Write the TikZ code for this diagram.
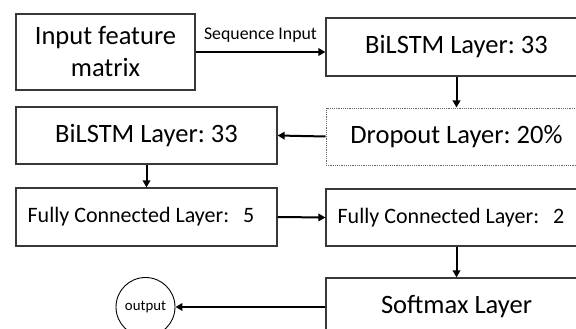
\documentclass[tikz,border=0pt]{standalone}
\usepackage{fontspec}
\setmainfont{Carlito}
\usetikzlibrary{arrows.meta}
\frenchspacing
\begin{document}
\begin{tikzpicture}[x=1pt,y=-1pt,
  layerbox/.style={draw=black!78,line width=1.2pt,rectangle,inner sep=0pt,
    minimum width=261pt,minimum height=58pt,align=center},
  bigtext/.style={font=\fontsize{26.5}{32}\selectfont},
  midtext/.style={font=\fontsize{22}{26}\selectfont},
  flow/.style={line width=2pt,-{Triangle[length=7pt,width=7.5pt]}}
]
\useasboundingbox (0,0) rectangle (576,329);
\clip (0,0) rectangle (576,329);

% left column
\node[layerbox,bigtext,minimum width=179pt,minimum height=76pt] (inp) at (105.5,52)
  {Input feature\\matrix};
\node[layerbox,bigtext,minimum height=57pt] (bl2) at (146.5,135.5) {BiLSTM Layer: 33};
\node[layerbox,midtext] (fc5) at (146.5,217) {Fully Connected Layer:\hspace{14pt}5\hspace{11pt}};
\node[circle,draw=black,line width=0.9pt,minimum size=59pt,inner sep=0pt,
  font=\fontsize{14.8}{17}\selectfont] (out) at (145.5,307) {output};

% right column
\node[layerbox,bigtext] (bl1) at (456.5,47) {BiLSTM Layer: 33};
\node[layerbox,bigtext,draw=black!60,densely dotted,line width=1pt,minimum height=57pt]
  (drop) at (456.5,136.5) {Dropout Layer: 20\%};
\node[layerbox,midtext,minimum height=57pt] (fc2) at (456.5,217.5) {Fully Connected Layer:\hspace{14pt}2\hspace{11pt}};
\node[layerbox,bigtext] (soft) at (456.5,307) {Softmax Layer};

% connectors
\draw[flow] (inp.east) -- (inp.east -| bl1.west)
  node[midway,above=5pt,font=\fontsize{17.8}{20}\selectfont] {Sequence Input};
\draw[flow] (bl1.south) -- (drop.north);
\draw[flow] (drop.west) -- (bl2.east);
\draw[flow] (bl2.south) -- (fc5.north);
\draw[flow] (fc5.east) -- (fc2.west);
\draw[flow] (fc2.south) -- (soft.north);
\draw[flow] (soft.west) -- (out.east);
\end{tikzpicture}
\end{document}
